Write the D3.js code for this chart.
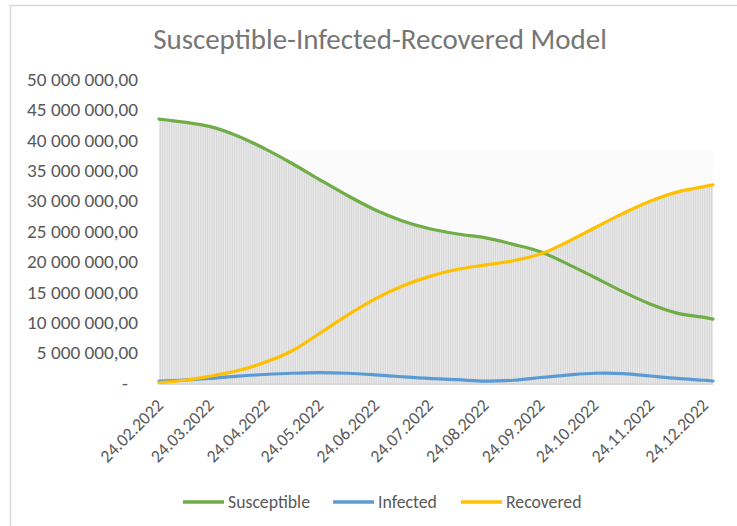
<!DOCTYPE html>
<html><head><meta charset="utf-8">
<script src="https://cdn.jsdelivr.net/npm/d3@7"></script>
<style>body{margin:0;background:#fff;overflow:hidden} svg{display:block}</style>
</head><body>
<script>
// ---- data ----
const dates = ["2022-02-24","2022-03-10","2022-03-24","2022-04-09","2022-04-24","2022-05-09","2022-05-24",
  "2022-06-09","2022-06-24","2022-07-09","2022-07-24","2022-08-09","2022-08-24","2022-09-09","2022-09-24",
  "2022-10-09","2022-10-24","2022-11-09","2022-11-24","2022-12-09","2022-12-24","2022-12-29"];
const susceptible = [43.4,42.9,42.2,40.6,38.5,36.1,33.5,30.8,28.5,26.7,25.4,24.5,23.9,22.8,21.6,19.6,17.4,15.0,13.0,11.5,10.8,10.5].map(v=>v*1e6);
const infected    = [0.3,0.48,0.75,1.13,1.4,1.6,1.7,1.6,1.35,1.03,0.75,0.55,0.3,0.45,0.9,1.3,1.6,1.55,1.15,0.75,0.45,0.33].map(v=>v*1e6);
const recovered   = [0.05,0.45,1.1,2.05,3.4,5.3,8.1,11.2,13.8,15.9,17.5,18.7,19.4,20.1,21.2,23.2,25.5,27.9,29.9,31.4,32.3,32.6].map(v=>v*1e6);
const tickDates = ["2022-02-24","2022-03-24","2022-04-24","2022-05-24","2022-06-24","2022-07-24",
  "2022-08-24","2022-09-24","2022-10-24","2022-11-24","2022-12-24"];
const yTicks = [0,5e6,10e6,15e6,20e6,25e6,30e6,35e6,40e6,45e6,50e6];
const seriesNames = ["Susceptible","Infected","Recovered"];
const title = "Susceptible-Infected-Recovered Model";

// ---- setup ----
const W = 737, H = 526;
const colors = ["#70ad47","#5b9bd5","#ffc000"];
const FONT = "Carlito, Calibri, Lato, 'Open Sans', sans-serif";
const parse = d3.timeParse("%Y-%m-%d");
const fmtTick = d3.timeFormat("%d.%m.%Y");
const loc = d3.formatLocale({decimal:",", thousands:"\u00a0", grouping:[3], currency:["",""]});
const fmtY = v => v === 0 ? "-" : loc.format(",.2f")(v);
const curve = d3.curveCatmullRom.alpha(0.5);

const svg = d3.select("body").append("svg").attr("width", W).attr("height", H);
const defs = svg.append("defs");
const pat = defs.append("pattern").attr("id","drop").attr("patternUnits","userSpaceOnUse")
  .attr("width", 1.8).attr("height", 10);
pat.append("rect").attr("width",1.8).attr("height",10).attr("fill","#ebebeb");
pat.append("rect").attr("width",0.9).attr("height",10).attr("fill","#d6d6d6");

// chart border
svg.append("rect").attr("x",10.5).attr("y",5.5).attr("width",W+10).attr("height",H+10)
  .attr("fill","#fff").attr("stroke","#d9d9d9").attr("stroke-width",1.5);

const x = d3.scaleTime().domain([parse(dates[0]), parse(dates[dates.length-1])]).range([159, 713]);
const y = d3.scaleLinear().domain([0, 50e6]).range([383, 79]);

const pts = dates.map(d=>parse(d));
const series = [susceptible, infected, recovered];

// faint plot background
svg.append("rect").attr("x", x.range()[0]).attr("y", 150).attr("width", x.range()[1]-x.range()[0])
  .attr("height", y(0)-150).attr("fill","#fbfbfb");

// drop lines (as striped areas under the series)
[susceptible, recovered].forEach(arr=>{
  const area = d3.area().x((d,i)=>x(pts[i])).y0(y(0)).y1(d=>y(d)).curve(curve);
  svg.append("path").attr("d", area(arr)).attr("fill","url(#drop)");
});

// x axis line
svg.append("line").attr("x1", x.range()[0]).attr("x2", x.range()[1]).attr("y1", y(0)+1).attr("y2", y(0)+1)
  .attr("stroke","#d9d9d9").attr("stroke-width",2);

// lines
const line = d3.line().x((d,i)=>x(pts[i])).y(d=>y(d)).curve(curve);
series.forEach((arr,k)=>{
  svg.append("path").attr("d", line(arr)).attr("fill","none").attr("stroke", colors[k])
    .attr("stroke-width",3.2).attr("stroke-linecap","round").attr("stroke-linejoin","round");
});

// font fitting helper
function fitSize(text, target, base){
  const t = svg.append("text").attr("font-family",FONT).attr("font-size",base).text(text);
  const w = t.node().getComputedTextLength(); t.remove();
  return base*target/w;
}
const labelSize = fitSize("50\u00a0000\u00a0000,00", 111, 20);
const legendSize = fitSize("Susceptible", 82, 20);
const xLabelSize = labelSize * 0.92;
const titleSize = fitSize(title, 454, 26);

// title
svg.append("text").attr("x", 380).attr("y", 49).attr("text-anchor","middle")
  .attr("font-family",FONT).attr("font-size",titleSize).attr("fill","#767676").text(title);

// y axis labels
const yAxis = svg.append("g");
yTicks.forEach(v=>{
  yAxis.append("text").attr("x", v===0 ? 128 : 138).attr("y", y(v)).attr("dy","0.35em")
    .attr("text-anchor","end").attr("font-family",FONT).attr("font-size",labelSize)
    .attr("fill","#595959").text(fmtY(v));
});

// x axis labels
const xAxis = svg.append("g");
tickDates.forEach(t=>{
  const px = x(parse(t)) + 1, py = 402;
  xAxis.append("text").attr("transform",`translate(${px},${py}) rotate(-45)`)
    .attr("text-anchor","end").attr("dy","0.35em").attr("font-family",FONT).attr("font-size",xLabelSize)
    .attr("fill","#595959").text(fmtTick(parse(t)));
});

// legend
const legX = [183, 333, 461];
seriesNames.forEach((n,k)=>{
  svg.append("line").attr("x1",legX[k]).attr("x2",legX[k]+41).attr("y1",502).attr("y2",502)
    .attr("stroke",colors[k]).attr("stroke-width",3.5);
  svg.append("text").attr("x",legX[k]+45).attr("y",502).attr("dy","0.35em")
    .attr("font-family",FONT).attr("font-size",legendSize).attr("fill","#595959").text(n);
});
</script>
</body></html>
